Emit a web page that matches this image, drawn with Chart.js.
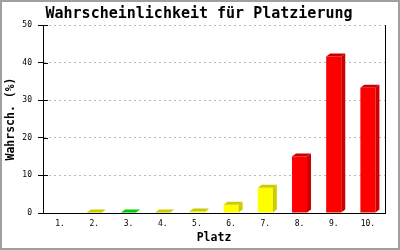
<!DOCTYPE html>
<html>
<head>
<meta charset="utf-8">
<script src="https://cdn.jsdelivr.net/npm/chart.js@4/dist/chart.umd.min.js"></script>
<style>
  html, body { margin: 0; padding: 0; background: #fff; }
  canvas { display: block; }
</style>
</head>
<body>
<canvas id="c" width="400" height="250"></canvas>
<script>
// ---- data ----
const categories = ["1.", "2.", "3.", "4.", "5.", "6.", "7.", "8.", "9.", "10."];
const probabilities = [0, 0.1, 0.1, 0.1, 0.4, 2.2, 6.7, 15.0, 41.6, 33.3];
const yTicks = [0, 10, 20, 30, 40, 50];
const chartTitle = "Wahrscheinlichkeit für Platzierung";
const yTitle = "Wahrsch. (%)";
const xTitle = "Platz";

// ---- styles ----
const frontColors = ["#ffff00", "#ffff00", "#00ff00", "#ffff00", "#ffff00", "#ffff00", "#ffff00", "#ff0000", "#ff0000", "#ff0000"];
const shadeColors = ["#cccc00", "#cccc00", "#00cc00", "#cccc00", "#cccc00", "#cccc00", "#cccc00", "#cc0000", "#cc0000", "#cc0000"];
const DX = 4, DY = 3;

const monoFont = "'DejaVu Sans Mono', 'Liberation Mono', monospace";

const bgPlugin = {
  id: 'bg',
  beforeDraw(chart) {
    const ctx = chart.ctx;
    ctx.save();
    ctx.fillStyle = '#ffffff';
    ctx.fillRect(0, 0, chart.width, chart.height);
    ctx.restore();
  },
  afterDraw(chart) {
    const ctx = chart.ctx;
    const a = chart.chartArea;
    const ys = chart.scales.y;
    ctx.save();
    // right border of plot
    ctx.strokeStyle = '#000';
    ctx.lineWidth = 1;
    ctx.beginPath();
    ctx.moveTo(Math.round(a.right) + 0.5, a.top);
    ctx.lineTo(Math.round(a.right) + 0.5, a.bottom);
    ctx.stroke();
    // inner half of the y tick marks
    ys.ticks.forEach(t => {
      const py = Math.round(ys.getPixelForValue(t.value)) + 0.5;
      ctx.beginPath();
      ctx.moveTo(a.left, py);
      ctx.lineTo(a.left + 5, py);
      ctx.stroke();
    });
    // outer frame
    ctx.strokeStyle = '#a0a0a0';
    ctx.lineWidth = 2;
    ctx.strokeRect(1, 1, chart.width - 2, chart.height - 2);
    ctx.restore();
  }
};

const bar3dPlugin = {
  id: 'bar3d',
  afterDatasetsDraw(chart) {
    const ctx = chart.ctx;
    const meta = chart.getDatasetMeta(0);
    const ds = chart.data.datasets[0];
    ctx.save();
    meta.data.forEach((el, i) => {
      const v = ds.data[i];
      if (!(v > 0)) return;
      const p = el.getProps(['x', 'y', 'base', 'width'], true);
      const left = p.x - p.width / 2, right = p.x + p.width / 2;
      const top = p.y, bottom = p.base;
      ctx.fillStyle = shadeColors[i];
      // side face
      ctx.beginPath();
      ctx.moveTo(right, top);
      ctx.lineTo(right + DX, top - DY);
      ctx.lineTo(right + DX, bottom - DY);
      ctx.lineTo(right, bottom);
      ctx.closePath();
      ctx.fill();
      // top face
      ctx.beginPath();
      ctx.moveTo(left, top);
      ctx.lineTo(left + DX, top - DY);
      ctx.lineTo(right + DX, top - DY);
      ctx.lineTo(right, top);
      ctx.closePath();
      ctx.fill();
    });
    ctx.restore();
  }
};

new Chart(document.getElementById('c'), {
  type: 'bar',
  data: {
    labels: categories,
    datasets: [{
      data: probabilities,
      backgroundColor: frontColors,
      borderWidth: 0,
      categoryPercentage: 1.0,
      barPercentage: 0.44
    }]
  },
  options: {
    responsive: false,
    animation: false,
    events: [],
    layout: { padding: { left: 13, right: 15, top: 0, bottom: 0 } },
    plugins: {
      legend: { display: false },
      tooltip: { enabled: false },
      title: {
        display: true,
        text: chartTitle,
        color: '#000',
        font: { family: monoFont, size: 15, weight: 'bold' },
        padding: { top: 5, bottom: 2 }
      }
    },
    scales: {
      x: {
        grid: { display: false, drawTicks: false },
        border: { display: true, color: '#000', width: 1 },
        ticks: {
          color: '#000',
          font: { family: monoFont, size: 8 },
          padding: 6,
          maxRotation: 0,
          autoSkip: false
        },
        title: {
          display: true,
          text: xTitle,
          color: '#000',
          font: { family: monoFont, size: 11.5, weight: 'bold' },
          padding: { top: 0, bottom: 5 }
        },
        afterFit(scale) { scale.height = 37; }
      },
      y: {
        min: 0,
        max: 50,
        afterBuildTicks(scale) { scale.ticks = yTicks.map(v => ({ value: v })); },
        grid: {
          color: '#b8b8b8',
          lineWidth: 1,
          drawTicks: true,
          tickLength: 5,
          tickColor: '#000',
          tickWidth: 1
        },
        border: { display: true, color: '#000', width: 1, dash: [2, 3] },
        ticks: {
          color: '#000',
          font: { family: monoFont, size: 8 },
          padding: 6
        },
        title: {
          display: true,
          text: yTitle,
          color: '#000',
          font: { family: monoFont, size: 11.5, weight: 'bold' },
          padding: { top: -9, bottom: 0 }
        },
        afterFit(scale) { scale.width = 30; }
      }
    }
  },
  plugins: [bgPlugin, bar3dPlugin]
});
</script>
</body>
</html>
